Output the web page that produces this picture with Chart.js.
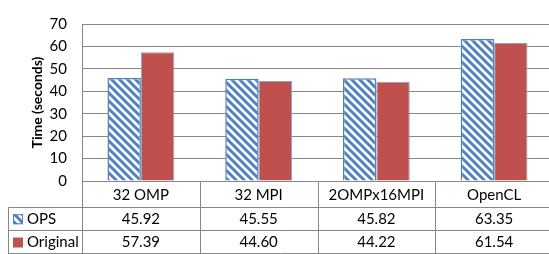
<!DOCTYPE html>
<html>
<head>
<meta charset="utf-8">
<script src="https://cdn.jsdelivr.net/npm/chart.js@4/dist/chart.umd.min.js"></script>
<style>
html,body{margin:0;padding:0;background:#fff;overflow:hidden;}
#wrap{width:549px;height:254px;overflow:hidden;position:relative;}
canvas{display:block;}
</style>
</head>
<body>
<div id="wrap"><canvas id="c" width="554" height="254" style="width:554px;height:254px"></canvas></div>
<script>
const categories = ['32 OMP', '32 MPI', '2OMPx16MPI', 'OpenCL'];
const seriesNames = ['OPS', 'Original'];
const opsValues = [45.92, 45.55, 45.82, 63.35];
const originalValues = [57.39, 44.60, 44.22, 61.54];
const yTicks = [0, 10, 20, 30, 40, 50, 60, 70];

const BLUE = '#4F81BD';
const RED = '#C0504D';
const GRID = '#878787';
const FONT = 'Lato, "Open Sans", sans-serif';

function hatch() {
  const s = 8;
  const c = document.createElement('canvas');
  c.width = s; c.height = s;
  const g = c.getContext('2d');
  g.fillStyle = '#fff';
  g.fillRect(0, 0, s, s);
  g.strokeStyle = BLUE;
  g.lineWidth = 3;
  for (let k = -1; k <= 1; k++) {
    g.beginPath();
    g.moveTo(-s, -s + k * s);
    g.lineTo(2 * s, 2 * s + k * s);
    g.stroke();
  }
  return g.createPattern(c, 'repeat');
}
const hatchPattern = hatch();

const tablePlugin = {
  id: 'dataTable',
  afterDraw(chart) {
    const ctx = chart.ctx;
    const x = chart.scales.x;
    const area = chart.chartArea;
    const n = categories.length;
    const half = (x.getPixelForValue(1) - x.getPixelForValue(0)) / 2;
    const bounds = [];
    for (let i = 0; i < n; i++) bounds.push(x.getPixelForValue(i) - half);
    bounds.push(x.getPixelForValue(n - 1) + half);
    const y0 = area.bottom;
    const r1 = y0 + 26, r2 = r1 + 22.5, r3 = 253.5;
    const legLeft = 8.5;
    ctx.save();
    ctx.strokeStyle = GRID;
    ctx.lineWidth = 1;
    ctx.beginPath();
    ctx.moveTo(legLeft, Math.round(r1) + 0.5); ctx.lineTo(bounds[n], Math.round(r1) + 0.5);
    ctx.moveTo(legLeft, Math.round(r2) + 0.5); ctx.lineTo(bounds[n], Math.round(r2) + 0.5);
    ctx.moveTo(legLeft, r3); ctx.lineTo(bounds[n], r3);
    for (let i = 0; i <= n; i++) {
      const bx = Math.round(bounds[i]) + 0.5;
      ctx.moveTo(bx, y0); ctx.lineTo(bx, 254);
    }
    ctx.moveTo(legLeft, Math.round(r1) + 0.5); ctx.lineTo(legLeft, 254);
    ctx.stroke();

    ctx.fillStyle = '#000';
    ctx.font = '15px ' + FONT;
    ctx.textBaseline = 'middle';
    ctx.textAlign = 'center';
    const rows = [opsValues, originalValues];
    const rowMid = [(y0 + r1) / 2 + 1, (r1 + r2) / 2 + 1, (r2 + r3) / 2 + 1];
    for (let i = 0; i < n; i++) {
      const cx = (bounds[i] + bounds[i + 1]) / 2;
      ctx.fillText(categories[i], cx, rowMid[0]);
      ctx.fillText(rows[0][i].toFixed(2), cx, rowMid[1]);
      ctx.fillText(rows[1][i].toFixed(2), cx, rowMid[2]);
    }
    ctx.textAlign = 'left';
    for (let r = 0; r < 2; r++) {
      const ky = rowMid[r + 1] - 5;
      if (r === 0) {
        ctx.fillStyle = hatchPattern;
        ctx.fillRect(13, ky, 10, 10);
        ctx.strokeStyle = BLUE;
        ctx.strokeRect(13.5, ky + 0.5, 9, 9);
      } else {
        ctx.fillStyle = RED;
        ctx.fillRect(13, ky, 10, 10);
      }
      ctx.fillStyle = '#000';
      ctx.fillText(seriesNames[r], 27, rowMid[r + 1]);
    }
    ctx.restore();
  }
};

new Chart(document.getElementById('c'), {
  type: 'bar',
  data: {
    labels: categories,
    datasets: [
      { label: seriesNames[0], data: opsValues, backgroundColor: hatchPattern, borderColor: BLUE, borderWidth: 1.5 },
      { label: seriesNames[1], data: originalValues, backgroundColor: RED, borderColor: '#8aa3cc', borderWidth: 1 }
    ]
  },
  options: {
    responsive: false,
    animation: false,
    devicePixelRatio: 1,
    categoryPercentage: 0.567,
    barPercentage: 1,
    layout: { padding: { top: 13, bottom: 73, right: 1, left: 0 } },
    plugins: { legend: { display: false }, tooltip: { enabled: false } },
    scales: {
      x: {
        display: false,
        grid: { display: false }
      },
      y: {
        min: 0, max: 70,
        afterBuildTicks(scale) { scale.ticks = yTicks.map(v => ({ value: v })); },
        afterFit(scale) { scale.width = 82; },
        border: { display: true, color: GRID, width: 1 },
        grid: { color: GRID, lineWidth: 1, drawTicks: false },
        ticks: { color: '#000', padding: 15, font: { family: FONT, size: 15 } },
        title: {
          display: true,
          text: 'Time (seconds)',
          color: '#000',
          font: { family: FONT, size: 14, weight: 'bold' },
          padding: { top: 29, bottom: 0 }
        }
      }
    }
  },
  plugins: [tablePlugin]
});
</script>
</body>
</html>
